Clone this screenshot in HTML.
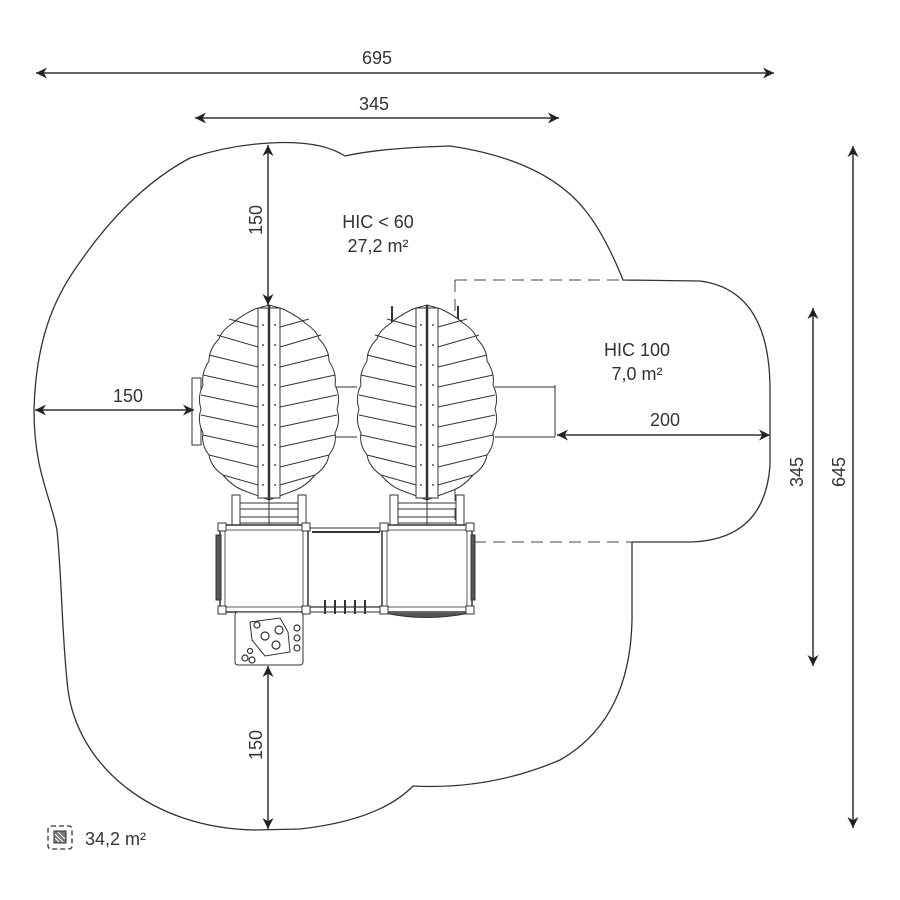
<!DOCTYPE html>
<html><head><meta charset="utf-8"><style>
html,body{margin:0;padding:0;background:#fff;}
svg{display:block;}
text{font-family:"Liberation Sans",sans-serif;fill:#333;font-size:18px;}
</style></head><body>
<svg width="900" height="900" viewBox="0 0 900 900" xmlns="http://www.w3.org/2000/svg">
<defs>
<marker id="ar" viewBox="0 0 10 10" refX="10" refY="5" markerWidth="11" markerHeight="11" orient="auto-start-reverse" markerUnits="userSpaceOnUse">
<path d="M0,0 L10,5 L0,10 L3,5 Z" fill="#222"/></marker>
<g id="leaf" fill="none" stroke="#333" stroke-width="1">
<path d="M0,0 L14,4 Q30,12 36,18 Q48,26 50,34 Q60,44 60,56 Q68,68 66,80 Q72,92 68,104 Q72,116 66,128 Q68,140 60,150 Q58,162 46,170 Q36,182 24,186 L0,195 L-24,186 Q-36,182 -46,170 Q-58,162 -60,150 Q-68,140 -66,128 Q-72,116 -68,104 Q-72,92 -66,80 Q-68,68 -60,56 Q-60,44 -50,34 Q-48,26 -36,18 Q-30,12 -14,4 Z" fill="#fff"/>
<rect x="-11" y="3" width="22" height="190" fill="#fff"/>
<line x1="0" y1="0" x2="0" y2="195" stroke-width="2.5"/>
<path d="M11,22 L40,14 M11,42 L52,30 M11,62 L60,50 M11,82 L66,70 M11,102 L68,90 M11,122 L68,110 M11,142 L66,130 M11,162 L60,150 M11,180 L46,170"/>
<path d="M-11,22 L-40,14 M-11,42 L-52,30 M-11,62 L-60,50 M-11,82 L-66,70 M-11,102 L-68,90 M-11,122 L-68,110 M-11,142 L-66,130 M-11,162 L-60,150 M-11,180 L-46,170"/>
<g fill="#555" stroke="none">
<circle cx="-6" cy="20" r="1"/><circle cx="-6" cy="40" r="1"/><circle cx="-6" cy="60" r="1"/><circle cx="-6" cy="80" r="1"/><circle cx="-6" cy="100" r="1"/><circle cx="-6" cy="120" r="1"/><circle cx="-6" cy="140" r="1"/><circle cx="-6" cy="160" r="1"/><circle cx="-6" cy="180" r="1"/>
<circle cx="6" cy="20" r="1"/><circle cx="6" cy="40" r="1"/><circle cx="6" cy="60" r="1"/><circle cx="6" cy="80" r="1"/><circle cx="6" cy="100" r="1"/><circle cx="6" cy="120" r="1"/><circle cx="6" cy="140" r="1"/><circle cx="6" cy="160" r="1"/><circle cx="6" cy="180" r="1"/>
</g>
</g>
<g id="sup" fill="none" stroke="#333" stroke-width="1">
<rect x="-37" y="0" width="8" height="30"/><rect x="29" y="0" width="8" height="30"/>
<line x1="-29" y1="8" x2="29" y2="8"/><line x1="-29" y1="14" x2="29" y2="14"/><line x1="-29" y1="22" x2="29" y2="22"/><line x1="-29" y1="28" x2="29" y2="28"/>
<line x1="0" y1="0" x2="0" y2="30"/>
</g>
</defs>

<!-- outer safety zone -->
<path d="M270,143 Q320,140 345,156 Q380,148 450,146 Q545,160 585,210 Q605,235 623,280 L700,281 Q770,290 770,390 L770,465 Q765,540 690,542 L632,542 L632,620 Q630,720 560,760 Q490,790 413,786 Q380,820 300,829 L255,830 C150,828 78,765 68,690 C62,640 62,580 57,530 C50,495 34,470 34,410 C36,330 60,290 80,262 Q130,190 190,158 Q230,145 270,143 Z" fill="none" stroke="#333" stroke-width="1.3"/>

<!-- dashed HIC100 zone -->
<path d="M455,280 L623,280 M455,280 L455,540 M455,542 L632,542" fill="none" stroke="#444" stroke-width="1" stroke-dasharray="12,7"/>

<!-- slide / connections -->
<g fill="none" stroke="#333" stroke-width="1">
<line x1="335" y1="387" x2="357" y2="387"/><line x1="335" y1="437" x2="357" y2="437"/>
<line x1="495" y1="387" x2="555" y2="387"/><line x1="495" y1="437" x2="555" y2="437"/><line x1="555" y1="385" x2="555" y2="437"/>
<rect x="192" y="378" width="9" height="67"/>
<line x1="392" y1="306" x2="392" y2="328" stroke-width="2"/><line x1="458" y1="306" x2="458" y2="328" stroke-width="2"/>
</g>

<use href="#sup" x="269" y="495"/>
<use href="#sup" x="427" y="495"/>
<use href="#leaf" x="269" y="305"/>
<use href="#leaf" x="427" y="305"/>

<!-- platforms -->
<g fill="#fff" stroke="#333" stroke-width="1">
<rect x="308" y="528" width="76" height="84"/>
<line x1="312" y1="532" x2="380" y2="532" stroke-width="2"/>
<rect x="220" y="525" width="88" height="87" stroke-width="1.5"/>
<rect x="225" y="530" width="78" height="77" stroke-width="0.8"/>
<rect x="382" y="525" width="90" height="87" stroke-width="1.5"/>
<rect x="387" y="530" width="80" height="77" stroke-width="0.8"/>
<rect x="216" y="535" width="5" height="65" fill="#555"/>
<rect x="471" y="535" width="4" height="65" fill="#555"/>
<path d="M385,613 Q425,622 470,613" fill="#555"/>
<rect x="218" y="523" width="8" height="8"/><rect x="302" y="523" width="8" height="8"/><rect x="380" y="523" width="8" height="8"/><rect x="466" y="523" width="8" height="8"/>
<rect x="218" y="606" width="8" height="8"/><rect x="302" y="606" width="8" height="8"/><rect x="380" y="606" width="8" height="8"/><rect x="466" y="606" width="8" height="8"/>
<rect x="235" y="612" width="68" height="53" rx="3"/>
<path d="M250,622 L280,618 L288,632 L290,652 L265,656 L252,640 Z"/>
</g>
<g fill="none" stroke="#333" stroke-width="1.2">
<line x1="310" y1="607" x2="380" y2="607"/>
<line x1="325" y1="600" x2="325" y2="614" stroke-width="2"/><line x1="335" y1="600" x2="335" y2="614" stroke-width="2"/><line x1="345" y1="600" x2="345" y2="614" stroke-width="2"/><line x1="355" y1="600" x2="355" y2="614" stroke-width="2"/><line x1="365" y1="600" x2="365" y2="614" stroke-width="2"/>
<circle cx="265" cy="636" r="4"/><circle cx="279" cy="630" r="4"/><circle cx="276" cy="645" r="4"/><circle cx="257" cy="625" r="3"/>
<circle cx="297" cy="628" r="3"/><circle cx="297" cy="638" r="3"/><circle cx="297" cy="648" r="3"/>
<circle cx="245" cy="658" r="3"/><circle cx="252" cy="660" r="3"/><circle cx="250" cy="651" r="2.5"/>
</g>

<!-- dimension lines -->
<g stroke="#333" stroke-width="1.5" fill="none">
<line x1="36" y1="73" x2="774" y2="73" marker-start="url(#ar)" marker-end="url(#ar)"/>
<line x1="195" y1="118" x2="559" y2="118" marker-start="url(#ar)" marker-end="url(#ar)"/>
<line x1="268" y1="145" x2="268" y2="305" marker-start="url(#ar)" marker-end="url(#ar)"/>
<line x1="35" y1="410" x2="194" y2="410" marker-start="url(#ar)" marker-end="url(#ar)"/>
<line x1="268" y1="666" x2="268" y2="829" marker-start="url(#ar)" marker-end="url(#ar)"/>
<line x1="557" y1="435" x2="770" y2="435" marker-start="url(#ar)" marker-end="url(#ar)"/>
<line x1="813" y1="308" x2="813" y2="666" marker-start="url(#ar)" marker-end="url(#ar)"/>
<line x1="853" y1="146" x2="853" y2="828" marker-start="url(#ar)" marker-end="url(#ar)"/>
</g>

<g text-anchor="middle">
<text x="377" y="64">695</text>
<text x="374" y="110">345</text>
<text x="128" y="402">150</text>
<text x="665" y="426">200</text>
<text x="378" y="228">HIC &lt; 60</text>
<text x="378" y="252">27,2 m²</text>
<text x="637" y="356">HIC 100</text>
<text x="637" y="380">7,0 m²</text>
<text transform="translate(262,220) rotate(-90)">150</text>
<text transform="translate(262,745) rotate(-90)">150</text>
<text transform="translate(803,472) rotate(-90)">345</text>
<text transform="translate(845,472) rotate(-90)">645</text>
</g>

<!-- legend -->
<rect x="48" y="826" width="24" height="23" rx="3" fill="none" stroke="#333" stroke-width="1.3" stroke-dasharray="5,3"/>
<rect x="54" y="831" width="12" height="12" fill="#777" stroke="#333"/>
<path d="M55,834 L63,842 M55,838 L59,842 M58,832 L65,839" stroke="#fff" stroke-width="1"/>
<text x="85" y="845">34,2 m²</text>
</svg>
</body></html>
